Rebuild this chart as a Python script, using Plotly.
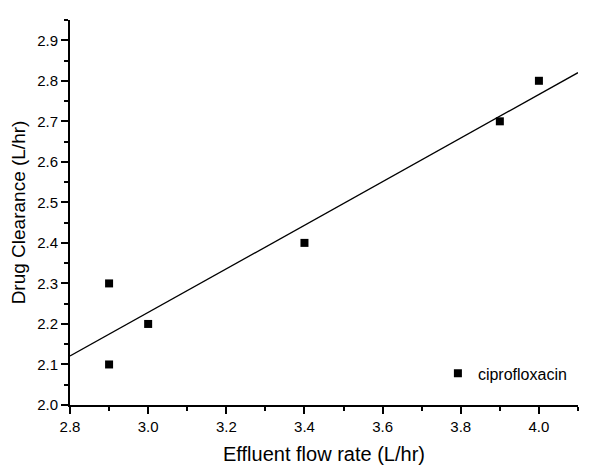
import numpy as np
import plotly.graph_objects as go

flow = [2.9, 2.9, 3.0, 3.4, 3.9, 4.0]
clearance = [2.3, 2.1, 2.2, 2.4, 2.7, 2.8]
series_name = "ciprofloxacin"
x_ticks = [2.8, 3.0, 3.2, 3.4, 3.6, 3.8, 4.0]
y_ticks = [2.0, 2.1, 2.2, 2.3, 2.4, 2.5, 2.6, 2.7, 2.8, 2.9]

slope, intercept = np.polyfit(flow, clearance, 1)
fit_x = [2.8, 4.1]
fit_y = [slope * v + intercept for v in fit_x]

fig = go.Figure()
fig.add_trace(go.Scatter(x=fit_x, y=fit_y, mode="lines",
                         line=dict(color="black", width=1.3), showlegend=False,
                         hoverinfo="skip"))
fig.add_trace(go.Scatter(x=flow, y=clearance, mode="markers", name=series_name,
                         marker=dict(symbol="square", size=8, color="black")))

font_family = "Liberation Sans, Arial, sans-serif"
# the page body adds an 8px margin, so the figure is 8px smaller on each axis
fig.update_layout(
    width=592, height=465,
    margin=dict(l=62, r=22, t=12, b=68),
    paper_bgcolor="white", plot_bgcolor="white",
    font=dict(family=font_family, color="black", size=15),
    showlegend=True,
    legend=dict(x=0.988, y=0.038, xanchor="right", yanchor="bottom",
                font=dict(size=16), bgcolor="rgba(0,0,0,0)",
                itemwidth=30),
    xaxis=dict(range=[2.8, 4.1], tickvals=x_ticks,
               ticktext=[f"{v:.1f}" for v in x_ticks],
               ticks="outside", ticklen=7, tickwidth=1.6, tickcolor="black",
               showline=True, linecolor="black", linewidth=1.8,
               showgrid=False, zeroline=False, automargin=False,
               minor=dict(dtick=0.1, tick0=2.8, ticks="outside", ticklen=4,
                          tickwidth=1.6, tickcolor="black", showgrid=False),
               title=dict(text="Effluent flow rate (L/hr)", font=dict(size=20), standoff=13),
               tickfont=dict(size=15)),
    yaxis=dict(range=[2.0, 2.95], tickvals=y_ticks,
               ticktext=[f"{v:.1f}" for v in y_ticks],
               ticks="outside", ticklen=7, tickwidth=1.6, tickcolor="black",
               showline=True, linecolor="black", linewidth=1.8,
               showgrid=False, zeroline=False, automargin=False,
               minor=dict(dtick=0.05, tick0=2.0, ticks="outside", ticklen=4,
                          tickwidth=1.6, tickcolor="black", showgrid=False),
               title=dict(text="Drug Clearance (L/hr)", font=dict(size=19), standoff=10),
               tickfont=dict(size=15)),
)

fig.write_html("out.html")
